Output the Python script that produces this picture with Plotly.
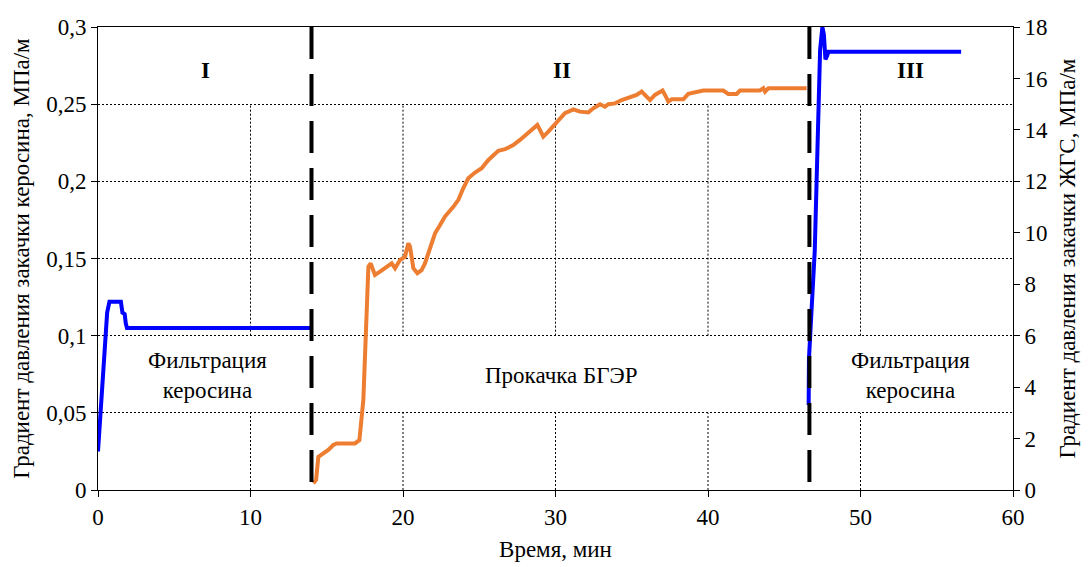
import plotly.graph_objects as go

# Phase I: kerosene filtration (left axis, MPa/m)
ker1_t = [0.0, 0.15, 0.3, 0.45, 0.6, 0.75, 1.0, 1.5, 1.6, 1.75, 1.82, 1.9, 14.0]
ker1_g = [0.025, 0.048, 0.072, 0.097, 0.115, 0.122, 0.122, 0.122, 0.115, 0.114, 0.108, 0.105, 0.105]

# Phase II: BGER pumping (right axis, MPa/m)
bger_t = [14.12, 14.3, 14.45, 14.78, 15.1, 15.43, 15.65, 16.85, 17.14, 17.4, 17.62, 17.73, 17.88,
          18.16, 18.49, 18.93, 19.26, 19.48, 19.8, 20.13, 20.35, 20.46, 20.68, 20.94, 21.22, 21.44,
          21.66, 21.88, 22.1, 22.43, 22.75, 23.3, 23.63, 23.95, 24.28, 24.72, 25.16, 25.6, 25.92,
          26.25, 26.69, 27.23, 27.67, 28.33, 28.81, 28.98, 29.2, 29.53, 30.08, 30.62, 31.17, 31.6,
          32.15, 32.48, 32.92, 33.25, 33.46, 33.9, 34.34, 34.77, 35.32, 35.65, 35.87, 36.2, 36.52,
          37.02, 37.18, 37.4, 37.62, 38.38, 38.71, 39.15, 39.36, 39.69, 41.0, 41.33, 41.88, 42.1,
          43.4, 43.63, 43.74, 43.96, 46.47]
bger_g = [0.26, 0.39, 1.29, 1.43, 1.56, 1.75, 1.81, 1.81, 1.94, 3.5, 6.74, 8.68, 8.81,
          8.36, 8.49, 8.68, 8.81, 8.62, 8.94, 9.07, 9.59, 9.46, 8.62, 8.43, 8.55, 8.81,
          9.2, 9.65, 9.98, 10.3, 10.63, 11.01, 11.28, 11.73, 12.12, 12.34, 12.51, 12.83, 13.03,
          13.19, 13.25, 13.41, 13.61, 13.93, 14.19, 14.0, 13.74, 13.93, 14.32, 14.65, 14.8, 14.71,
          14.68, 14.84, 15.0, 14.9, 15.0, 15.03, 15.16, 15.23, 15.36, 15.49, 15.36, 15.16, 15.36,
          15.53, 15.36, 15.1, 15.19, 15.19, 15.4, 15.45, 15.49, 15.53, 15.53, 15.4, 15.4, 15.53,
          15.53, 15.62, 15.49, 15.62, 15.62]

# Phase III: kerosene filtration (left axis)
ker3_t = [46.6, 46.62, 46.7, 47.0, 47.35, 47.5, 47.6, 47.7, 47.8, 47.9, 56.6]
ker3_g = [0.055, 0.085, 0.1, 0.155, 0.285, 0.3, 0.295, 0.279, 0.281, 0.284, 0.284]

phase_bounds = [14.0, 46.65]
x_ticks = [0, 10, 20, 30, 40, 50, 60]
y_left_ticks = [0, 0.05, 0.1, 0.15, 0.2, 0.25, 0.3]
y_right_ticks = [0, 2, 4, 6, 8, 10, 12, 14, 16, 18]
phase_labels = ["I", "II", "III"]
phase_label_x = [7.05, 30.4, 53.3]
desc_labels = ["Фильтрация<br>керосина", "Прокачка БГЭР", "Фильтрация<br>керосина"]
desc_label_x = [7.15, 30.4, 53.3]

FONT = "Liberation Serif"
FS = 23
BLUE = "#0000FF"
ORANGE = "#ED7D31"

fig = go.Figure()
fig.add_trace(go.Scatter(x=ker1_t, y=ker1_g, mode="lines", line=dict(color=BLUE, width=4),
                         showlegend=False, yaxis="y"))
fig.add_trace(go.Scatter(x=ker3_t, y=ker3_g, mode="lines", line=dict(color=BLUE, width=4),
                         showlegend=False, yaxis="y"))
fig.add_trace(go.Scatter(x=bger_t, y=bger_g, mode="lines", line=dict(color=ORANGE, width=4),
                         showlegend=False, yaxis="y2"))

shapes = []
# vertical grid segments (interrupted behind the text bands)
for xv in x_ticks[1:-1]:
    for y0, y1 in [(0, 0.05), (0.1, 0.25)]:
        shapes.append(dict(type="line", xref="x", yref="y", x0=xv, x1=xv, y0=y0, y1=y1,
                           line=dict(color="black", width=1, dash="2px,2px"), layer="below"))
# phase boundaries
for xb in phase_bounds:
    shapes.append(dict(type="line", xref="x", yref="paper", x0=xb, x1=xb, y0=1, y1=0,
                       line=dict(color="black", width=4, dash="32px,15px"), layer="above"))

annotations = []
for lab, xv in zip(phase_labels, phase_label_x):
    annotations.append(dict(x=xv, y=0.272, xref="x", yref="y", text="<b>%s</b>" % lab,
                            showarrow=False, font=dict(family=FONT, size=FS, color="black")))
for lab, xv in zip(desc_labels, desc_label_x):
    annotations.append(dict(x=xv, y=0.0742, xref="x", yref="y", text=lab, showarrow=False,
                            font=dict(family=FONT, size=FS, color="black")))

axis_common = dict(zeroline=False, showline=True, linecolor="black", linewidth=1,
                   ticks="outside", ticklen=6, tickcolor="black", automargin=False,
                   tickfont=dict(family=FONT, size=FS, color="black"))

fig.update_layout(
    width=1091, height=567,
    margin=dict(l=98, r=78, t=27, b=77),
    paper_bgcolor="white", plot_bgcolor="white",
    separators=", ",
    font=dict(family=FONT, size=FS, color="black"),
    showlegend=False,
    shapes=shapes,
    annotations=annotations,
    xaxis=dict(range=[0, 60], tickvals=x_ticks, showgrid=False, mirror=True,
               title=dict(text="Время, мин", font=dict(family=FONT, size=FS), standoff=12),
               **axis_common),
    yaxis=dict(range=[0, 0.3], tickvals=y_left_ticks, showgrid=True, gridcolor="black",
               gridwidth=1, griddash="2px,2px",
               title=dict(text="Градиент давления закачки керосина, МПа/м",
                          font=dict(family=FONT, size=FS), standoff=10),
               **axis_common),
    yaxis2=dict(range=[0, 18], tickvals=y_right_ticks, overlaying="y", side="right",
                showgrid=False,
                title=dict(text="Градиент давления закачки ЖГС, МПа/м",
                           font=dict(family=FONT, size=FS), standoff=11),
                **axis_common),
)

fig.write_html("out.html")
